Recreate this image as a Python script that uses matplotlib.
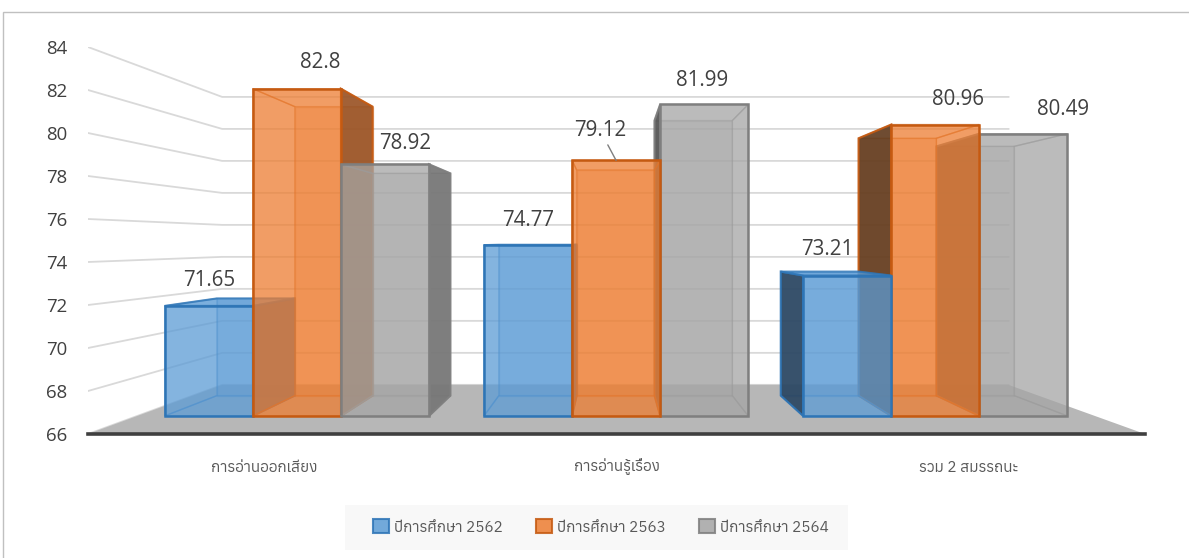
import matplotlib
matplotlib.use('Agg')
import matplotlib.pyplot as plt
from matplotlib.patches import Polygon, Rectangle, Patch
from matplotlib import font_manager
from matplotlib.ft2font import FT2Font

categories = ['การอ่านออกเสียง', 'การอ่านรู้เรื่อง', 'รวม 2 สมรรถนะ']
series = ['ปีการศึกษา 2562', 'ปีการศึกษา 2563', 'ปีการศึกษา 2564']
y2562 = [71.65, 74.77, 73.21]
y2563 = [82.8, 79.12, 80.96]
y2564 = [78.92, 81.99, 80.49]
yticks = list(range(66, 85, 2))


def thai_fonts():
    found = []
    for f in font_manager.fontManager.ttflist:
        try:
            cmap = FT2Font(f.fname).get_charmap()
        except Exception:
            continue
        if 0x0E01 in cmap and 0x0E35 in cmap and f.name not in found:
            found.append(f.name)
    return found


THAI = thai_fonts()
# loopless Thai face is closest to the original
THAI.sort(key=lambda n: 0 if n == 'Anuphan' else 1)
plt.rcParams['font.family'] = ['Open Sans'] + THAI[:1] + ['DejaVu Sans']
THAI_FAM = THAI[:1] + ['Open Sans', 'DejaVu Sans']

W, H = 1189, 558
fig = plt.figure(figsize=(W / 100, H / 100), dpi=100)

# outer chart frame, cut off at right/bottom like the screenshot
fig.patches.append(Rectangle((3 / W, -0.1), 1.2, 1 - 12 / H + 0.1, transform=fig.transFigure,
                             fill=False, ec='#c0c0c0', lw=1.0))
# legend background
fig.patches.append(Rectangle((345 / W, 1 - 550 / H), 503 / W, 45 / H, transform=fig.transFigure,
                             fc='#f8f8f8', ec='none'))

ax = fig.add_axes([88 / W, 1 - 434 / H, 1057 / W, 387 / H])
ax.set_xlim(0, 3)
ax.set_ylim(66, 84)
ax.patch.set_visible(False)
for sp in ax.spines.values():
    sp.set_visible(False)

# simple one-point perspective: s=1 is the front edge of the floor
VX, VY = 1.487, 74.93
S_WALL, S_FRONT, S_BACK = 0.744, 0.906, 0.80


def proj(x, y, s):
    return (VX + (x - VX) * s, VY + (y - VY) * s)


# gridlines: left wall + back wall
for v in yticks:
    a, b, c = proj(0, v, 1), proj(0, v, S_WALL), proj(3, v, S_WALL)
    ax.plot([a[0], b[0], c[0]], [a[1], b[1], c[1]], color='#d9d9d9', lw=1.3, zorder=1)

# floor
ax.add_patch(Polygon([proj(0, 66, 1), proj(3, 66, 1), proj(3, 66, S_WALL), proj(0, 66, S_WALL)],
                     closed=True, fc='#b7b7b7', ec='none', zorder=2))
ax.plot([0, 3], [66, 66], color='#3f3f3f', lw=2.6, zorder=3, clip_on=False)

values = [y2562, y2563, y2564]
face = ['#5b9bd5', '#ed7d31', '#a5a5a5']
edge = ['#2e75b6', '#c55a11', '#7f7f7f']
side_r = ['#3b6c9c', '#9a5426', '#767676']
side_l = ['#2b4661', '#633d20', '#555555']
BAR_W = 0.276
PAD = (1 - 3 * BAR_W) / 2

order = []
for i in range(3):
    for j in range(3):
        x0 = i + PAD + j * BAR_W
        order.append((abs(x0 + BAR_W / 2 - VX), i, j, x0))
order.sort(reverse=True)

z = 10
for _, i, j, x0 in order:
    x1 = x0 + BAR_W
    v = values[j][i]
    q = lambda pts: [proj(*p) for p in pts]
    back = q([(x0, 66, S_BACK), (x1, 66, S_BACK), (x1, v, S_BACK), (x0, v, S_BACK)])
    front = q([(x0, 66, S_FRONT), (x1, 66, S_FRONT), (x1, v, S_FRONT), (x0, v, S_FRONT)])
    left = q([(x0, 66, S_FRONT), (x0, 66, S_BACK), (x0, v, S_BACK), (x0, v, S_FRONT)])
    right = q([(x1, 66, S_FRONT), (x1, 66, S_BACK), (x1, v, S_BACK), (x1, v, S_FRONT)])
    top = q([(x0, v, S_FRONT), (x1, v, S_FRONT), (x1, v, S_BACK), (x0, v, S_BACK)])
    bottom = q([(x0, 66, S_FRONT), (x1, 66, S_FRONT), (x1, 66, S_BACK), (x0, 66, S_BACK)])

    ax.add_patch(Polygon(back, fc=face[j], alpha=0.3, ec=edge[j], lw=1.0, zorder=z))
    hidden = [bottom]
    visible = []
    if x0 > VX:
        visible.append((left, side_l[j]))
    else:
        hidden.append(left)
    if x1 < VX:
        visible.append((right, side_r[j]))
    else:
        hidden.append(right)
    for f in hidden:
        ax.add_patch(Polygon(f, fill=False, ec=edge[j], lw=1.0, alpha=0.5, zorder=z + 1))
    if v > VY:
        ax.add_patch(Polygon(top, fill=False, ec=edge[j], lw=1.0, alpha=0.5, zorder=z + 1))
    for f, c in visible:
        ax.add_patch(Polygon(f, fc=c, ec=edge[j], lw=1.5, alpha=0.92, zorder=z + 2))
    if v <= VY:
        ax.add_patch(Polygon(top, fc=face[j], ec=edge[j], lw=1.5, alpha=0.8, zorder=z + 2))
    ax.add_patch(Polygon(front, fc=face[j], alpha=0.75, ec='none', zorder=z + 3))
    ax.add_patch(Polygon(front, fill=False, ec=edge[j], lw=1.8, zorder=z + 3))
    z += 5

# data labels (pixel nudges mimic Excel's placement)
label_dx = [[0, 23, 20], [0, -16, -2], [-20, 23, 40]]
label_dy = [[25, 26, 21], [25, 30, 24], [26, 25, 24]]
for i in range(3):
    for j in range(3):
        x0 = i + PAD + j * BAR_W
        v = values[j][i]
        anchor = proj(x0 + BAR_W / 2, v, S_FRONT)
        arrow = dict(arrowstyle='-', color='#7f7f7f', lw=1.0, shrinkA=1, shrinkB=0) if (i, j) == (1, 1) else None
        ax.annotate(f'{v:g}', xy=anchor, xytext=(label_dx[i][j], label_dy[i][j]),
                    textcoords='offset pixels', ha='center', va='center', fontsize=14.8,
                    color='#404040', zorder=100, arrowprops=arrow)

ax.set_yticks(yticks)
ax.tick_params(axis='y', length=0, pad=15, labelsize=13.4, labelcolor='#404040')
ax.set_xticks([0.5, 1.5, 2.5])
ax.set_xticklabels(categories, family=THAI_FAM, va='baseline')
ax.tick_params(axis='x', length=0, pad=27, labelsize=11, labelcolor='#595959')

handles = [Patch(fc=c, ec=e, lw=1.5, alpha=0.85) for c, e in zip(face, edge)]
fig.legend(handles, series, loc='center', bbox_to_anchor=(601 / W, 1 - 527 / H), ncol=3,
           frameon=False, handlelength=1.0, handleheight=1.0, handletextpad=0.35,
           columnspacing=2.2, labelcolor='#595959', prop={'family': THAI_FAM, 'size': 11})

fig.savefig('out.png', dpi=100)
